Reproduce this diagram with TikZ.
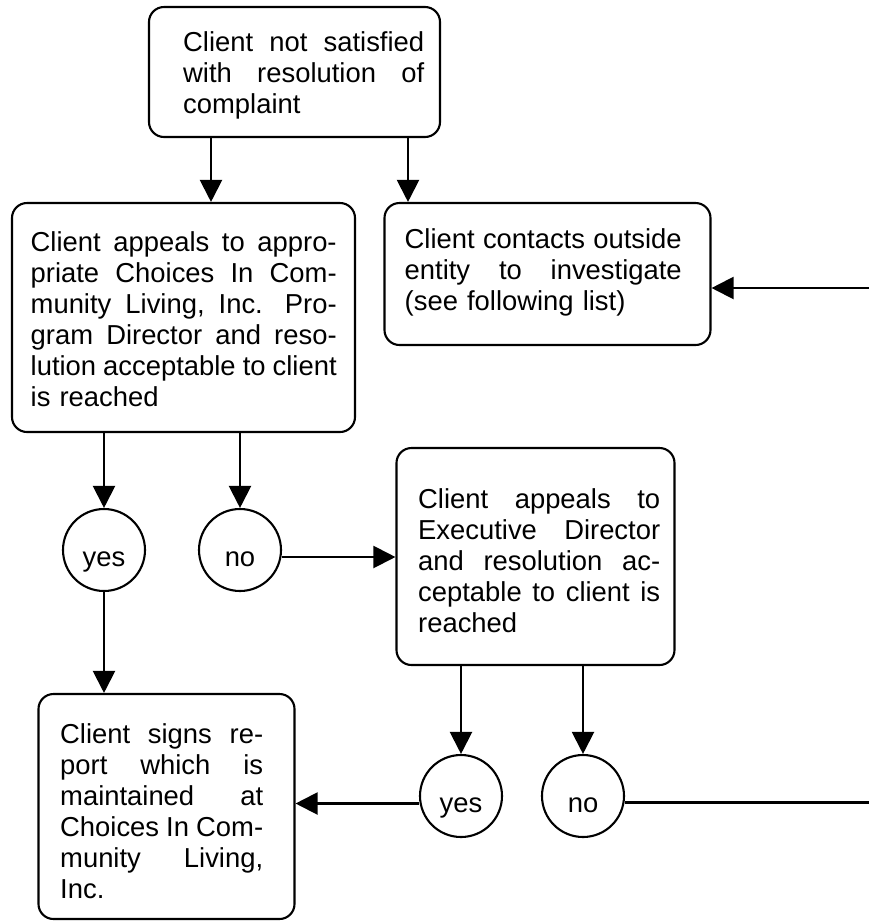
\documentclass[tikz,border=0pt]{standalone}
\usepackage{fontspec}
\setmainfont{Liberation Sans}
\usetikzlibrary{arrows.meta,shapes.geometric}
\newcommand{\jl}[1]{\leavevmode\hbox to \linewidth{#1}}
\tikzset{
  box/.style={draw, line width=2.1pt, rounded corners=15pt, inner sep=0pt},
  txt/.style={inner sep=0pt, anchor=north west, align=left, font=\fontsize{27.4pt}{31pt}\selectfont},
  dec/.style={draw, circle, line width=2.1pt, minimum size=82pt, inner sep=0pt,
              text height=34pt, text depth=2pt, font=\fontsize{27.4pt}{31pt}\selectfont},
  arr/.style={line width=2.1pt, -{Triangle[length=22pt,width=22pt]}},
  ln/.style={line width=2.1pt}
}
\begin{document}
\begin{tikzpicture}[x=1pt,y=-1pt]
\useasboundingbox (0,0) rectangle (869,922);
% boxes
\node[box, minimum width=291pt, minimum height=130pt] (top) at (294.5,72) {};
\node[box, minimum width=343pt, minimum height=229pt] (left) at (183.5,317.5) {};
\node[box, minimum width=326pt, minimum height=142pt] (right) at (547.5,274) {};
\node[box, minimum width=278pt, minimum height=217pt] (mid) at (535.5,556.5) {};
\node[box, minimum width=256pt, minimum height=225pt] (bot) at (166.5,806.5) {};
% texts
\node[txt, text width=241pt] (topT) at (183,31.5) {\jl{Client\hfill not\hfill satisfied}\\\jl{with\hfill resolution\hfill of}\\complaint};
\node[txt, text width=306pt] (leftT) at (30.5,231) {\jl{Client\hfill appeals\hfill to\hfill appro-}\\\jl{priate\hfill Choices\hfill In\hfill Com-}\\\jl{munity\hfill Living,\hfill Inc.\hfill\hspace{8pt}Pro-}\\\jl{gram\hfill Director\hfill and\hfill reso-}\\\jl{lution\hfill acceptable\hfill to\hfill client}\\is reached};
\node[txt, text width=277pt] (rightT) at (404.5,228.5) {\jl{Client\hfill contacts\hfill outside}\\\jl{entity\hfill to\hfill investigate}\\(see following list)};
\node[txt, text width=242pt] (midT) at (418,488.5) {\jl{Client\hfill appeals\hfill to}\\\jl{Executive\hfill Director}\\\jl{and\hfill resolution\hfill ac-}\\\jl{ceptable\hfill to\hfill client\hfill is}\\reached};
\node[txt, text width=203pt] (botT) at (60,723.5) {\jl{Client\hfill signs\hfill re-}\\\jl{port\hfill which\hfill is}\\\jl{maintained\hfill at}\\\jl{Choices\hfill In\hfill Com-}\\\jl{munity\hfill Living,}\\Inc.};
% decision circles
\node[dec] (yes1) at (104,550) {yes};
\node[dec] (no1) at (240,550) {no};
\node[dec] (yes2) at (461,796) {yes};
\node[dec] (no2) at (583,796) {no};
% off-picture ends of the return loop
\coordinate (e1) at (869,802.5);
\coordinate (e2) at (869,288);
% connectors
\draw[arr] ([xshift=-83.5pt]top.south) -- ([xshift=-83.5pt]top.south |- left.north);
\draw[arr] ([xshift=113.5pt]top.south) -- ([xshift=113.5pt]top.south |- right.north);
\draw[arr] (left.south -| yes1.north) -- (yes1.north);
\draw[arr] (left.south -| no1.north) -- (no1.north);
\draw[arr] ([yshift=-7pt]no1.east) -- ([yshift=-7pt]no1.east -| mid.west);
\draw[arr] (yes1.south) -- (yes1.south |- bot.north);
\draw[arr] (mid.south -| yes2.north) -- (yes2.north);
\draw[arr] (mid.south -| no2.north) -- (no2.north);
\draw[arr] ([yshift=-7.5pt]yes2.west) -- ([yshift=-7.5pt]yes2.west -| bot.east);
\draw[ln] ([yshift=-6.5pt]no2.east) -- (e1);
\draw[arr] (e2) -- (e2 -| right.east);
\end{tikzpicture}
\end{document}
